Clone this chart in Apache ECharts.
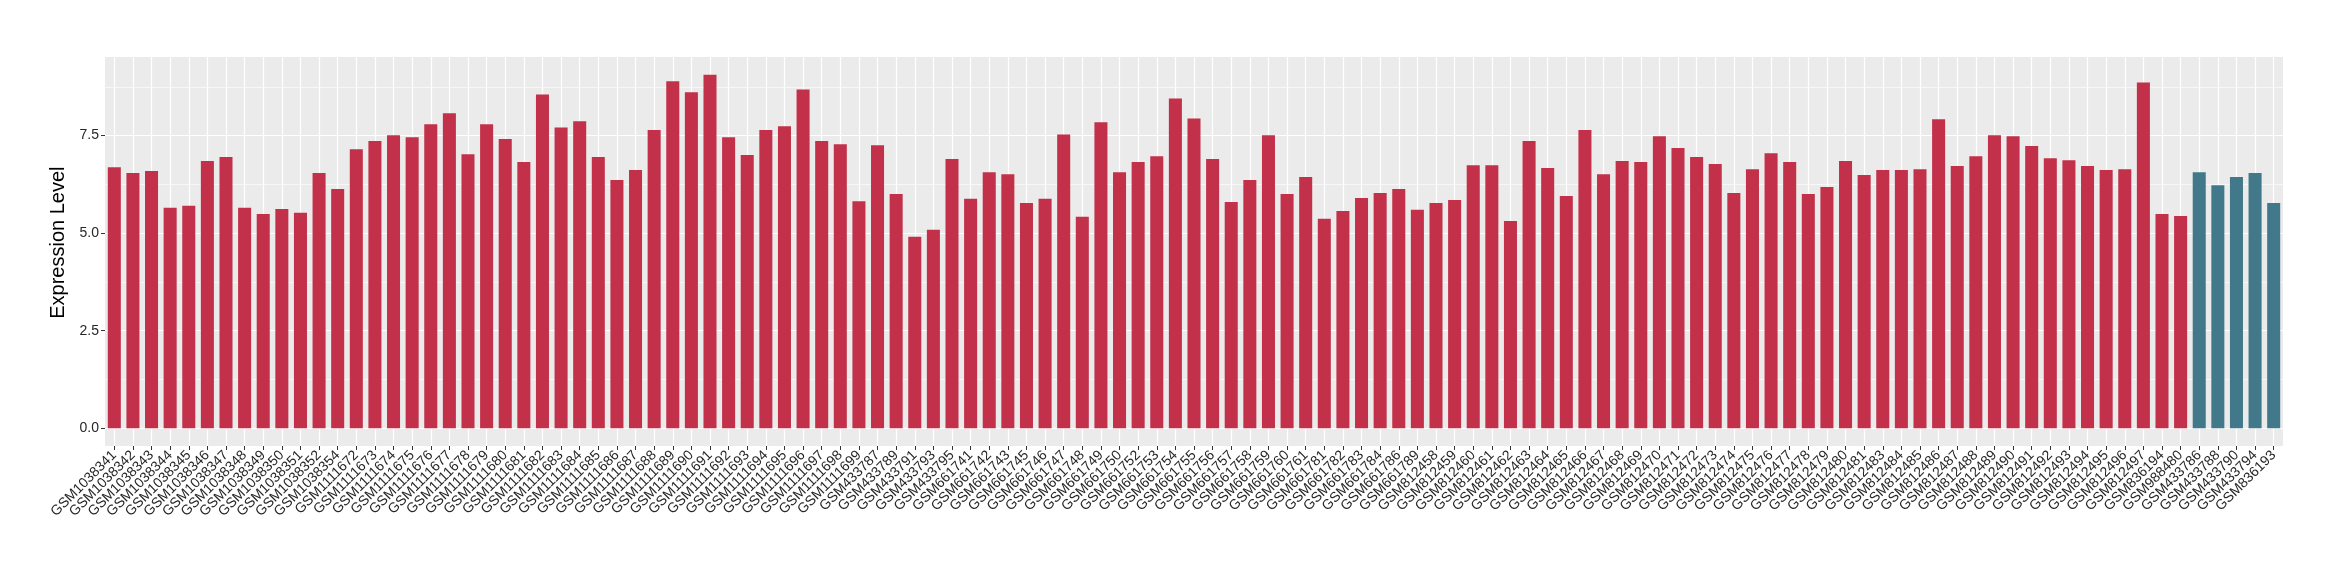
<!DOCTYPE html>
<html>
<head>
<meta charset="utf-8">
<script src="https://cdn.jsdelivr.net/npm/echarts@6/dist/echarts.min.js"></script>
<style>
  html, body { margin: 0; padding: 0; background: #fff; }
  #chart { width: 2340px; height: 580px; }
</style>
</head>
<body>
<div id="chart"></div>
<script>
const categories = [
  'GSM1038341','GSM1038342','GSM1038343','GSM1038344','GSM1038345','GSM1038346','GSM1038347','GSM1038348','GSM1038349','GSM1038350','GSM1038351','GSM1038352','GSM1038354',
  'GSM1111672','GSM1111673','GSM1111674','GSM1111675','GSM1111676','GSM1111677','GSM1111678','GSM1111679','GSM1111680','GSM1111681','GSM1111682','GSM1111683','GSM1111684','GSM1111685','GSM1111686','GSM1111687','GSM1111688','GSM1111689','GSM1111690','GSM1111691','GSM1111692','GSM1111693','GSM1111694','GSM1111695','GSM1111696','GSM1111697','GSM1111698','GSM1111699',
  'GSM433787','GSM433789','GSM433791','GSM433793','GSM433795',
  'GSM661741','GSM661742','GSM661743','GSM661745','GSM661746','GSM661747','GSM661748','GSM661749','GSM661750','GSM661752','GSM661753','GSM661754','GSM661755','GSM661756','GSM661757','GSM661758','GSM661759','GSM661760','GSM661761',
  'GSM661781','GSM661782','GSM661783','GSM661784','GSM661786','GSM661789',
  'GSM812458','GSM812459','GSM812460','GSM812461','GSM812462','GSM812463','GSM812464','GSM812465','GSM812466','GSM812467','GSM812468','GSM812469','GSM812470','GSM812471','GSM812472','GSM812473','GSM812474','GSM812475','GSM812476','GSM812477','GSM812478','GSM812479','GSM812480','GSM812481',
  'GSM812483','GSM812484','GSM812485','GSM812486','GSM812487','GSM812488','GSM812489','GSM812490','GSM812491','GSM812492','GSM812493','GSM812494','GSM812495','GSM812496','GSM812497',
  'GSM836194','GSM988480',
  'GSM433786','GSM433788','GSM433790','GSM433794','GSM836193'
];
const values = [
  6.69, 6.54, 6.59, 5.65, 5.70, 6.85, 6.95, 5.65, 5.49, 5.62, 5.52, 6.54, 6.13,
  7.15, 7.36, 7.51, 7.46, 7.79, 8.07, 7.02, 7.79, 7.41, 6.82, 8.55, 7.71, 7.87, 6.95, 6.36, 6.62, 7.64, 8.89, 8.61, 9.06, 7.46, 7.00, 7.64, 7.74, 8.68, 7.36, 7.28, 5.82,
  7.25, 6.00, 4.91, 5.09, 6.90,
  5.88, 6.56, 6.51, 5.77, 5.88, 7.53, 5.42, 7.84, 6.56, 6.82, 6.97, 8.45, 7.94, 6.90, 5.80, 6.36, 7.51, 6.00, 6.44,
  5.37, 5.57, 5.90, 6.03, 6.13, 5.60,
  5.77, 5.85, 6.74, 6.74, 5.31, 7.36, 6.67, 5.95, 7.64, 6.51, 6.85, 6.82, 7.48, 7.18, 6.95, 6.77, 6.03, 6.64, 7.05, 6.82, 6.00, 6.18, 6.85, 6.49,
  6.62, 6.62, 6.64, 7.92, 6.72, 6.97, 7.51, 7.48, 7.23, 6.92, 6.87, 6.72, 6.62, 6.64, 8.86,
  5.49, 5.44,
  6.56, 6.23, 6.44, 6.54, 5.77
];
const highlightedSamples = ['GSM433786','GSM433788','GSM433790','GSM433794','GSM836193'];
const yTicks = [0, 2.5, 5.0, 7.5];
const yTitle = 'Expression Level';

const RED = '#C23049';
const BLUE = '#41798A';
const FONT = '"Liberation Sans", Arial, Helvetica, sans-serif';

// panel geometry (ggplot-like), y expanded 5% on both sides
const W = 2340, H = 580;
const panel = { left: 105, right: 57, top: 57, bottom: 134 };
const vMax = Math.max(...values);
const yMax = vMax * 1.05, yMin = -vMax * 0.05;
const panelH = H - panel.top - panel.bottom;
const zeroY = panel.top + panelH * yMax / (yMax - yMin);

const chart = echarts.init(document.getElementById('chart'), null, { renderer: 'canvas' });

const barData = categories.map((c, i) => ({
  value: values[i],
  itemStyle: { color: highlightedSamples.includes(c) ? BLUE : RED }
}));

chart.setOption({
  backgroundColor: '#ffffff',
  animation: false,
  grid: [
    { left: panel.left, right: panel.right, top: panel.top, bottom: panel.bottom,
      show: true, backgroundColor: '#EBEBEB', borderWidth: 0, containLabel: false },
    { left: panel.left, right: panel.right, top: panel.top, bottom: H - zeroY,
      show: false, containLabel: false }
  ],
  xAxis: [
    { type: 'category', gridIndex: 0, data: categories, boundaryGap: true,
      axisLine: { show: false },
      axisTick: { show: true, alignWithLabel: true, interval: 0, length: 4, lineStyle: { color: '#333333', width: 1 } },
      axisLabel: { show: true, interval: 0, rotate: 45, fontSize: 14, color: '#262626', fontFamily: FONT, margin: 7 },
      splitLine: { show: true, alignWithLabel: true, interval: 0, lineStyle: { color: '#FFFFFF', width: 1.2 } }
    },
    { type: 'category', gridIndex: 1, data: categories, boundaryGap: true,
      axisLine: { show: false }, axisTick: { show: false }, axisLabel: { show: false }, splitLine: { show: false } }
  ],
  yAxis: [
    { type: 'value', gridIndex: 0, min: 0, max: 1, show: false, splitLine: { show: false } },
    { type: 'value', gridIndex: 1, min: 0, max: yMax, interval: 2.5,
      name: yTitle, nameLocation: 'middle', nameRotate: 90, nameGap: 24,
      nameTextStyle: { fontSize: 20, color: '#000000', fontFamily: FONT },
      axisLine: { show: false },
      axisTick: { show: true, length: 4, customValues: yTicks, lineStyle: { color: '#333333', width: 1 } },
      axisLabel: { show: true, fontSize: 14, color: '#262626', fontFamily: FONT, margin: 6,
        customValues: yTicks,
        formatter: v => yTicks.some(t => Math.abs(t - v) < 1e-9) ? v.toFixed(1) : '' },
      splitLine: { show: true, lineStyle: { color: '#FFFFFF', width: 1.2 } },
      minorTick: { show: false, splitNumber: 2 },
      minorSplitLine: { show: true, lineStyle: { color: '#FFFFFF', width: 0.6 } }
    }
  ],
  series: [{
    type: 'bar', xAxisIndex: 1, yAxisIndex: 1,
    data: barData,
    barCategoryGap: '30%',
    itemStyle: { borderWidth: 0 }
  }]
});
</script>
</body>
</html>
